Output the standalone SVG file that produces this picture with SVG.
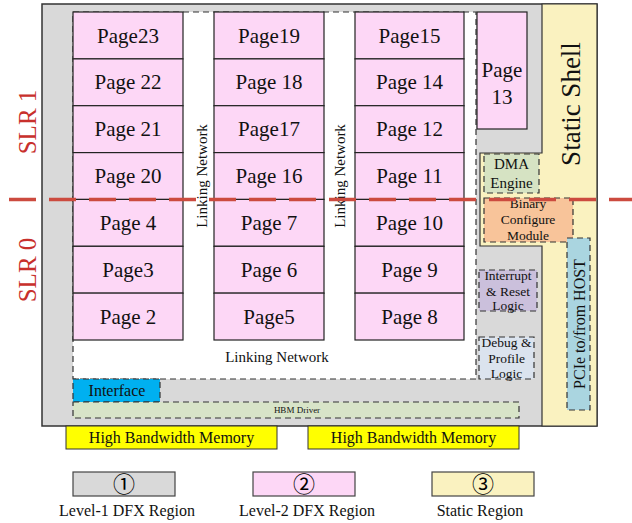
<svg xmlns="http://www.w3.org/2000/svg" width="632" height="523" viewBox="0 0 632 523">
<style>
text{font-family:"Liberation Serif","Times New Roman",serif;fill:#111}
.pg{fill:#fdd7f6;stroke:#222;stroke-width:1.2}
.pt{font-size:21px;text-anchor:middle}
.dash{stroke:#333;stroke-width:1.2;stroke-dasharray:6 4}
.sm{font-size:13.5px;text-anchor:middle}
.slr{font-size:25px;fill:#c8302c;text-anchor:middle}
.ln{font-size:15px;text-anchor:middle}
.leg{font-size:16px;text-anchor:middle}
.num{font-family:"Noto Sans CJK SC","DejaVu Sans",sans-serif;font-size:22px;text-anchor:middle;fill:#000}
</style>
<rect width="632" height="523" fill="#fff"/>
<g id="level1-region">
<rect x="42" y="4" width="555" height="422" fill="#d9d9d9" stroke="#333" stroke-width="1.5"/>
</g>
<g id="static-shell">
<path d="M542,4 H597 V426 H542 V246 H480 V153 H542 Z" fill="#faf2c0" stroke="#333" stroke-width="1.2"/>
<text transform="translate(580,104) rotate(-90)" style="font-size:27px;text-anchor:middle">Static Shell</text>
</g>
<g id="linking-network">
<rect x="73" y="12" width="403" height="367" fill="#fff" class="dash"/>
<text class="ln" x="277" y="362">Linking Network</text>
<text class="ln" transform="translate(207,176) rotate(-90)">Linking Network</text>
<text class="ln" transform="translate(345,176) rotate(-90)">Linking Network</text>
</g>
<g id="col1">
<g id="page23"><rect class="pg" x="73" y="12" width="110" height="46.9"/><text class="pt" x="128" y="42.5">Page23</text></g>
<g id="page22"><rect class="pg" x="73" y="58.9" width="110" height="46.9"/><text class="pt" x="128" y="89.4">Page 22</text></g>
<g id="page21"><rect class="pg" x="73" y="105.7" width="110" height="46.9"/><text class="pt" x="128" y="136.2">Page 21</text></g>
<g id="page20"><rect class="pg" x="73" y="152.6" width="110" height="46.9"/><text class="pt" x="128" y="183.1">Page 20</text></g>
<g id="page4"><rect class="pg" x="73" y="199.4" width="110" height="46.9"/><text class="pt" x="128" y="229.9">Page 4</text></g>
<g id="page3"><rect class="pg" x="73" y="246.3" width="110" height="46.9"/><text class="pt" x="128" y="276.8">Page3</text></g>
<g id="page2"><rect class="pg" x="73" y="293.1" width="110" height="46.9"/><text class="pt" x="128" y="323.6">Page 2</text></g>
</g>
<g id="col2">
<g id="page19"><rect class="pg" x="214" y="12" width="110" height="46.9"/><text class="pt" x="269" y="42.5">Page19</text></g>
<g id="page18"><rect class="pg" x="214" y="58.9" width="110" height="46.9"/><text class="pt" x="269" y="89.4">Page 18</text></g>
<g id="page17"><rect class="pg" x="214" y="105.7" width="110" height="46.9"/><text class="pt" x="269" y="136.2">Page17</text></g>
<g id="page16"><rect class="pg" x="214" y="152.6" width="110" height="46.9"/><text class="pt" x="269" y="183.1">Page 16</text></g>
<g id="page7"><rect class="pg" x="214" y="199.4" width="110" height="46.9"/><text class="pt" x="269" y="229.9">Page 7</text></g>
<g id="page6"><rect class="pg" x="214" y="246.3" width="110" height="46.9"/><text class="pt" x="269" y="276.8">Page 6</text></g>
<g id="page5"><rect class="pg" x="214" y="293.1" width="110" height="46.9"/><text class="pt" x="269" y="323.6">Page5</text></g>
</g>
<g id="col3">
<g id="page15"><rect class="pg" x="355" y="12" width="109" height="46.9"/><text class="pt" x="409.5" y="42.5">Page15</text></g>
<g id="page14"><rect class="pg" x="355" y="58.9" width="109" height="46.9"/><text class="pt" x="409.5" y="89.4">Page 14</text></g>
<g id="page12"><rect class="pg" x="355" y="105.7" width="109" height="46.9"/><text class="pt" x="409.5" y="136.2">Page 12</text></g>
<g id="page11"><rect class="pg" x="355" y="152.6" width="109" height="46.9"/><text class="pt" x="409.5" y="183.1">Page 11</text></g>
<g id="page10"><rect class="pg" x="355" y="199.4" width="109" height="46.9"/><text class="pt" x="409.5" y="229.9">Page 10</text></g>
<g id="page9"><rect class="pg" x="355" y="246.3" width="109" height="46.9"/><text class="pt" x="409.5" y="276.8">Page 9</text></g>
<g id="page8"><rect class="pg" x="355" y="293.1" width="109" height="46.9"/><text class="pt" x="409.5" y="323.6">Page 8</text></g>
</g>
<g id="page13"><rect class="pg" x="477" y="12" width="50" height="117"/><text class="pt" x="502" y="77">Page</text><text class="pt" x="502" y="104">13</text></g>
<g id="dma-engine"><rect x="484" y="154" width="55" height="39" fill="#d6e3c3" class="dash"/><text x="511.5" y="169" style="font-size:15px;text-anchor:middle">DMA</text><text x="511.5" y="188" style="font-size:15px;text-anchor:middle">Engine</text></g>
<g id="binary-configure"><rect x="484" y="198" width="89" height="44" fill="#f8c49a" class="dash"/><text class="sm" x="528" y="208">Binary</text><text class="sm" x="528" y="224">Configure</text><text class="sm" x="528" y="240">Module</text></g>
<g id="pcie"><rect x="567" y="238" width="23" height="172" fill="#aad5e0" class="dash"/><text transform="translate(585,324) rotate(-90)" style="font-size:16px;text-anchor:middle">PCIe to/from HOST</text></g>
<g id="interrupt-reset"><rect x="479" y="270" width="58" height="41" fill="#cbc0dc" class="dash"/><text class="sm" x="508" y="280">Interrupt</text><text class="sm" x="508" y="296">&amp; Reset</text><text class="sm" x="508" y="310">Logic</text></g>
<g id="debug-profile"><rect x="479" y="337" width="55" height="42" fill="#dbe3ee" class="dash"/><text class="sm" x="506.5" y="347">Debug &amp;</text><text class="sm" x="506.5" y="363">Profile</text><text class="sm" x="506.5" y="378">Logic</text></g>
<g id="interface"><rect x="73" y="379" width="87" height="23" fill="#00b0f0" class="dash"/><text x="117" y="396" style="font-size:16px;text-anchor:middle">Interface</text></g>
<g id="hbm-driver"><rect x="73" y="402" width="446" height="16" fill="#d8e4c8" class="dash"/><text x="297" y="413" style="font-size:9px;text-anchor:middle">HBM Driver</text></g>
<g id="hbm1"><rect x="66" y="426" width="211" height="23" fill="#ffff00" stroke="#333" stroke-width="1"/><text x="171.5" y="443" style="font-size:16px;text-anchor:middle">High Bandwidth Memory</text></g>
<g id="hbm2"><rect x="308" y="426" width="211" height="23" fill="#ffff00" stroke="#333" stroke-width="1"/><text x="413.5" y="443" style="font-size:16px;text-anchor:middle">High Bandwidth Memory</text></g>
<g id="connectors">
<line x1="9" y1="199.4" x2="632" y2="199.4" stroke="#cc4b3f" stroke-width="3.5" stroke-dasharray="27 13"/>
</g>
<g id="slr-labels">
<text class="slr" transform="translate(36,122) rotate(-90)">SLR 1</text>
<text class="slr" transform="translate(36,270) rotate(-90)">SLR 0</text>
</g>
<g id="legend">
<g id="legend1"><rect x="73" y="472" width="102" height="24" fill="#d9d9d9" stroke="#444" stroke-width="1.2"/><text class="num" x="124" y="492">①</text><text class="leg" x="127" y="516">Level-1 DFX Region</text></g>
<g id="legend2"><rect x="253" y="472" width="102" height="24" fill="#fdd7f6" stroke="#444" stroke-width="1.2"/><text class="num" x="304" y="492">②</text><text class="leg" x="307" y="516">Level-2 DFX Region</text></g>
<g id="legend3"><rect x="432" y="472" width="102" height="24" fill="#faf2c0" stroke="#444" stroke-width="1.2"/><text class="num" x="483" y="492">③</text><text class="leg" x="480" y="516">Static Region</text></g>
</g>
</svg>
